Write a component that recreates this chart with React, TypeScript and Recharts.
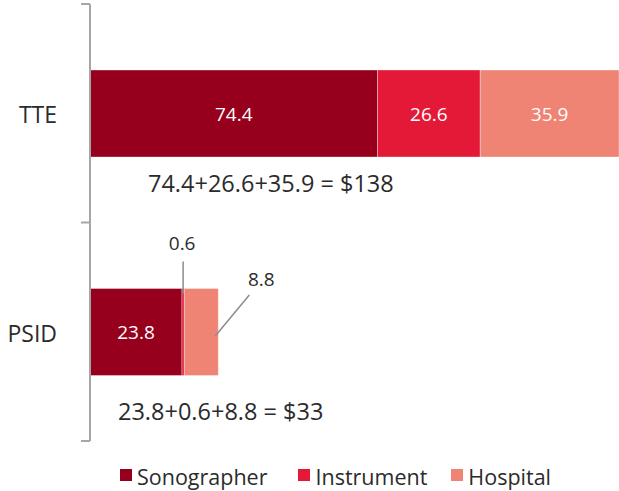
import React from 'react';
import { BarChart, Bar, XAxis, YAxis, LabelList, Legend } from 'recharts';

// ---- data ----
const categories = ['TTE', 'PSID'];
const sonographer = [74.4, 23.8];
const instrument = [26.6, 0.6];
const hospital = [35.9, 8.8];
const totalLabels = ['74.4+26.6+35.9 = $138', '23.8+0.6+8.8 = $33'];
const seriesNames = ['Sonographer', 'Instrument', 'Hospital'];

// ---- styles / layout ----
const COLORS: Record<string, string> = {
  Sonographer: '#97001c',
  Instrument: '#e31937',
  Hospital: '#ef8374',
};
const W = 619;
const H = 491;
const MARGIN = { top: 4, right: 0, bottom: 50, left: 0 };
const YAXIS_W = 90;
const AXIS_X = MARGIN.left + YAXIS_W;
const BAND = (H - MARGIN.top - MARGIN.bottom) / categories.length;
const FONT = '"Open Sans", "Noto Sans", sans-serif';
const TEXT = '#2b2b2b';
const AXIS_COLOR = '#a6a6a6';
const TOTAL_OFFSETS = [
  { dx: 58, dy: 26 },
  { dx: 28, dy: 35 },
];
const LEGEND_GAPS = [31, 24, 0];

const data = categories.map((c, i) => ({
  name: c,
  Sonographer: sonographer[i],
  Instrument: instrument[i],
  Hospital: hospital[i],
  total: totalLabels[i],
}));

const CategoryTick = (props: any) => {
  const { y, payload, index } = props;
  const yy = Number(y);
  const last = index === categories.length - 1;
  return (
    <g>
      <line x1={AXIS_X - 9} x2={AXIS_X} y1={yy - BAND / 2} y2={yy - BAND / 2} stroke={AXIS_COLOR} strokeWidth={2} />
      {last && (
        <line x1={AXIS_X - 9} x2={AXIS_X} y1={yy + BAND / 2} y2={yy + BAND / 2} stroke={AXIS_COLOR} strokeWidth={2} />
      )}
      <text x={AXIS_X - 33} y={yy + 1} textAnchor="end" dominantBaseline="central" fontSize={23} fill={TEXT} fontFamily={FONT}>
        {payload.value}
      </text>
    </g>
  );
};

const makeSegmentLabel = (key: string) => (p: any) => {
  const x = Number(p.x);
  const y = Number(p.y);
  const w = Number(p.width);
  const h = Number(p.height);
  const v = p.value;
  if (w >= 40) {
    return (
      <text x={x + w / 2} y={y + h / 2} textAnchor="middle" dominantBaseline="central" fontSize={19} fill="#ffffff" fontFamily={FONT}>
        {v}
      </text>
    );
  }
  if (key === 'Instrument') {
    const cx = x + w / 2;
    return (
      <g>
        <line x1={cx} x2={cx} y1={y + 5} y2={y - 27} stroke="#8c8c8c" strokeWidth={1.5} />
        <text x={cx - 1} y={y - 46} textAnchor="middle" dominantBaseline="central" fontSize={19} fill={TEXT} fontFamily={FONT}>
          {v}
        </text>
      </g>
    );
  }
  const sx = x + w - 3;
  const sy = y + h / 2 + 4;
  return (
    <g>
      <line x1={sx} y1={sy} x2={sx + 34} y2={sy - 41} stroke="#8c8c8c" strokeWidth={1.5} />
      <text x={x + w + 43} y={y - 10} textAnchor="middle" dominantBaseline="central" fontSize={19} fill={TEXT} fontFamily={FONT}>
        {v}
      </text>
    </g>
  );
};

const TotalLabel = (p: any) => {
  const x = Number(p.x);
  const y = Number(p.y);
  const h = Number(p.height);
  const idx = Number(p.index);
  const off = TOTAL_OFFSETS[idx] || { dx: 0, dy: 30 };
  return (
    <text x={x + off.dx} y={y + h + off.dy} textAnchor="start" dominantBaseline="central" fontSize={23.5} fill={TEXT} fontFamily={FONT}>
      {p.value}
    </text>
  );
};

const LegendContent = (props: any) => {
  const items = (props.payload || []) as any[];
  const ordered = seriesNames
    .map((n) => items.find((it: any) => it.value === n || it.dataKey === n))
    .filter(Boolean) as any[];
  return (
    <div style={{ display: 'flex', alignItems: 'center', paddingLeft: 120, height: 30, fontFamily: FONT }}>
      {ordered.map((it: any, i: number) => (
        <div key={it.value} style={{ display: 'flex', alignItems: 'center', marginRight: LEGEND_GAPS[i] }}>
          <span style={{ display: 'inline-block', width: 12, height: 12, background: it.color, marginRight: 5, marginTop: -4 }} />
          <span style={{ fontSize: 21.5, color: TEXT, lineHeight: '30px' }}>{it.value}</span>
        </div>
      ))}
    </div>
  );
};

export default function App() {
  return (
    <div style={{ position: 'absolute', left: 0, top: 0 }}>
      <BarChart width={W} height={H} data={data} layout="vertical" margin={MARGIN}>
        <XAxis type="number" hide domain={[0, 'dataMax']} />
        <YAxis
          type="category"
          dataKey="name"
          width={YAXIS_W}
          axisLine={{ stroke: AXIS_COLOR, strokeWidth: 2 }}
          tickLine={false}
          tick={<CategoryTick />}
          interval={0}
        />
        <Legend
          layout="horizontal"
          verticalAlign="middle"
          align="center"
          wrapperStyle={{ top: 462, left: 0, width: W, height: 30 }}
          content={<LegendContent />}
        />
        {seriesNames.map((key) => (
          <Bar
            key={key}
            dataKey={key}
            name={key}
            stackId="a"
            fill={COLORS[key]}
            stroke="#ffffff"
            strokeOpacity={0.35}
            strokeWidth={1}
            barSize={87}
            isAnimationActive={false}
          >
            <LabelList dataKey={key} content={makeSegmentLabel(key)} />
            {key === 'Sonographer' && <LabelList dataKey="total" content={TotalLabel} />}
          </Bar>
        ))}
      </BarChart>
    </div>
  );
}
